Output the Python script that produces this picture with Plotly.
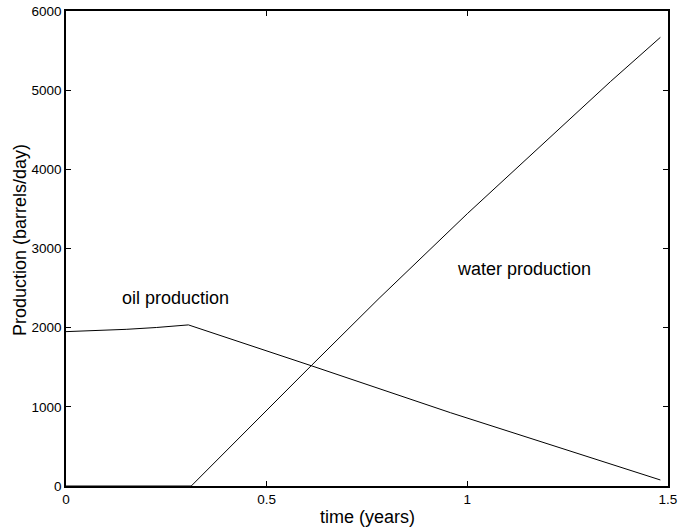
import plotly.graph_objects as go

# Oil production rate (barrels/day) over time (years)
oil_time = [0.0, 0.075, 0.15, 0.225, 0.305, 0.613, 0.958, 1.481]
oil_rate = [1950, 1962, 1979, 2002, 2035, 1516, 926, 76]

# Water production rate (barrels/day) over time (years)
water_time = [0.0, 0.312, 0.613, 0.78, 1.0, 1.244, 1.357, 1.481]
water_rate = [0, 0, 1530, 2370, 3440, 4590, 5110, 5667]

x_ticks = [0, 0.5, 1, 1.5]
x_tick_text = ["0", "0.5", "1", "1.5"]
y_ticks = [0, 1000, 2000, 3000, 4000, 5000, 6000]

FONT = "Liberation Sans, Arial, Helvetica, sans-serif"

# Plot-area geometry in pixels (used for paper-coordinate title placement)
W, H = 678, 527
ML, MR, MT, MB = 66, 10, 11, 41
PW, PH = W - ML - MR, H - MT - MB

fig = go.Figure()
fig.add_trace(go.Scatter(x=oil_time, y=oil_rate, mode="lines",
                         line=dict(color="black", width=1), name="oil"))
fig.add_trace(go.Scatter(x=water_time, y=water_rate, mode="lines",
                         line=dict(color="black", width=1), name="water"))

fig.add_annotation(x=0.274, y=2375, text="oil production", showarrow=False,
                   font=dict(family=FONT, size=18, color="black"))
fig.add_annotation(x=1.140, y=2741, text="water production", showarrow=False,
                   font=dict(family=FONT, size=18, color="black"))

# Axis titles
fig.add_annotation(x=(367 - ML) / PW, xref="paper", y=-(517 - (H - MB)) / PH,
                   yref="paper", yanchor="middle", xanchor="center",
                   text="time (years)", showarrow=False,
                   font=dict(family=FONT, size=18, color="black"))
fig.add_annotation(x=-(ML - 20) / PW, xref="paper", y=((H - MB) - 240) / PH,
                   yref="paper", yanchor="middle", xanchor="center",
                   text="Production (barrels/day)", textangle=-90,
                   showarrow=False,
                   font=dict(family=FONT, size=18, color="black"))

axis_common = dict(
    showgrid=False, zeroline=False, showline=True, linecolor="black",
    linewidth=1.5, mirror="ticks", ticks="inside", ticklen=5, tickwidth=1,
    tickcolor="black", tickfont=dict(family=FONT, size=13.5, color="black"),
    automargin=False,
)

fig.update_xaxes(range=[0, 1.5], tickvals=x_ticks, ticktext=x_tick_text,
                 **axis_common)
fig.update_yaxes(range=[0, 6000], tickvals=y_ticks, **axis_common)

fig.update_layout(
    width=W, height=H,
    margin=dict(l=ML, r=MR, t=MT, b=MB),
    plot_bgcolor="white", paper_bgcolor="white",
    showlegend=False,
)

fig.write_html("out.html")
